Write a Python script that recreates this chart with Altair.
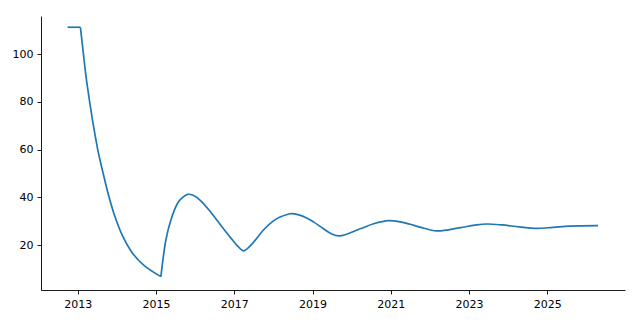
import altair as alt
import pandas as pd

# Values
years = [2012.737, 2013.066,
         2013.066, 2013.153, 2013.230, 2013.510, 2013.637, 2013.765, 2013.933,
         2014.147, 2014.402, 2014.698, 2015.124,
         2015.124, 2015.251, 2015.379, 2015.550, 2015.680, 2015.805, 2015.960,
         2016.144, 2016.399, 2016.654, 2016.909, 2017.100, 2017.233, 2017.400,
         2017.758, 2018.000, 2018.184, 2018.438, 2018.650, 2018.865, 2019.033,
         2019.204, 2019.459, 2019.690, 2020.221, 2020.563, 2020.950, 2021.243,
         2021.499, 2021.753, 2022.179, 2022.776, 2023.150, 2023.454, 2023.850,
         2024.291, 2024.729, 2025.150, 2025.577, 2026.299]
values = [111.2, 111.2,
          111.2, 98.5, 88.0, 59.9, 50.8, 42.2, 32.8,
          23.8, 16.6, 11.5, 6.9,
          6.9, 22.2, 30.6, 37.6, 40.0, 41.3, 40.8,
          38.6, 33.8, 28.4, 23.1, 19.4, 17.7, 19.6,
          26.6, 30.2, 31.9, 33.2, 32.7, 31.3, 29.7,
          27.8, 25.0, 23.9, 26.9, 29.0, 30.3, 29.8,
          28.8, 27.6, 26.0, 27.4, 28.4, 28.9, 28.5,
          27.7, 27.1, 27.5, 28.0, 28.2]
segments = ["flat"] * 2 + ["decay"] * 11 + ["oscillation"] * 40

x_ticks = [2013, 2015, 2017, 2019, 2021, 2023, 2025]
y_ticks = [20, 40, 60, 80, 100]

df = pd.DataFrame({"year": years, "value": values, "segment": segments,
                   "order": list(range(len(years)))})

axis_common = dict(
    grid=False,
    domainColor="black",
    domainWidth=0.9,
    tickColor="black",
    tickWidth=0.9,
    tickSize=4,
    labelPadding=4,
    labelFont="DejaVu Sans",
    labelFontSize=11,
    labelColor="black",
    title=None,
)

chart = alt.Chart(df).mark_line(
    color="#1f77b4", strokeWidth=1.7, interpolate="catmull-rom"
).encode(
    x=alt.X("year:Q",
            scale=alt.Scale(domain=[2012.058, 2026.99], nice=False, zero=False),
            axis=alt.Axis(values=x_ticks, format="d", **axis_common)),
    y=alt.Y("value:Q",
            scale=alt.Scale(domain=[1.3, 115.9], nice=False, zero=False),
            axis=alt.Axis(values=y_ticks, format="d", **axis_common)),
    detail="segment:N",
    order="order:Q",
).properties(
    width=584,
    height=274,
    background="white",
    autosize=alt.AutoSizeParams(type="none"),
    padding={"left": 41, "top": 16, "right": 15, "bottom": 30},
).configure_view(strokeWidth=0)

chart.save("out.html", embed_options={"renderer": "svg", "actions": False})
